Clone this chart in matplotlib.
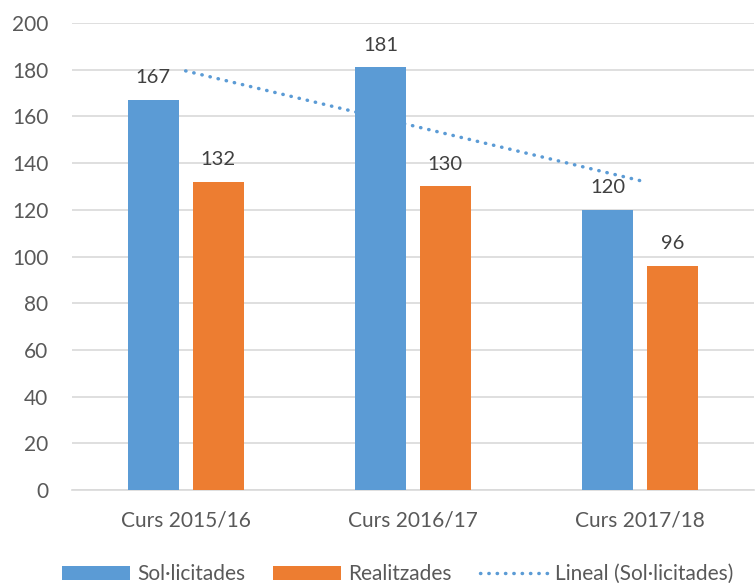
import matplotlib.pyplot as plt
import numpy as np

# data
courses = ["Curs 2015/16", "Curs 2016/17", "Curs 2017/18"]
requested = [167, 181, 120]
done = [132, 130, 96]

BLUE = "#5b9bd5"
ORANGE = "#ed7d31"
TXT = "#595959"

plt.rcParams["font.family"] = ["Lato", "DejaVu Sans"]

fig = plt.figure(figsize=(7.55, 5.83), dpi=100)
ax = fig.add_axes([0.0954, 0.1595, 0.903, 0.801])

x = np.arange(len(courses))
bar_w = 0.224
off = 0.143

b1 = ax.bar(x - off, requested, bar_w, color=BLUE, label="Sol·licitades", zorder=3)
b2 = ax.bar(x + off, done, bar_w, color=ORANGE, label="Realitzades", zorder=3)

# linear trendline for the first series
coef = np.polyfit(x, requested, 1)
tl, = ax.plot(x, np.polyval(coef, x), color=BLUE, lw=2.5, linestyle=(0, (0.1, 2.3)),
              dash_capstyle="round", label="Lineal (Sol·licitades)", zorder=4)

for bars in (b1, b2):
    for r in bars:
        ax.annotate(f"{int(r.get_height())}", (r.get_x() + r.get_width() / 2, r.get_height()),
                    xytext=(0, 10), textcoords="offset points", ha="center", va="bottom",
                    fontsize=14.5, color="#404040", zorder=5)

ax.set_xlim(-0.5, 2.5)
ax.set_ylim(0, 200)
ax.set_yticks(range(0, 201, 20))
ax.set_xticks(x)
ax.set_xticklabels(courses)
ax.tick_params(axis="both", length=0, labelsize=15, labelcolor=TXT)
ax.tick_params(axis="x", pad=15)
ax.tick_params(axis="y", pad=17)
ax.grid(axis="y", color="#d9d9d9", lw=1.2, zorder=0)
for s in ("top", "right", "left"):
    ax.spines[s].set_visible(False)
ax.spines["bottom"].set_color("#d9d9d9")
ax.spines["bottom"].set_linewidth(1.2)

leg = fig.legend([b1, b2, tl], [b1.get_label(), b2.get_label(), tl.get_label()],
                 loc="center", bbox_to_anchor=(0.527, 0.0154), ncol=3, frameon=False,
                 fontsize=15, handlelength=3.26, handleheight=0.68, columnspacing=1.35,
                 handletextpad=0.35, borderpad=0)
for t in leg.get_texts():
    t.set_color(TXT)

fig.savefig("out.png", dpi=100)
